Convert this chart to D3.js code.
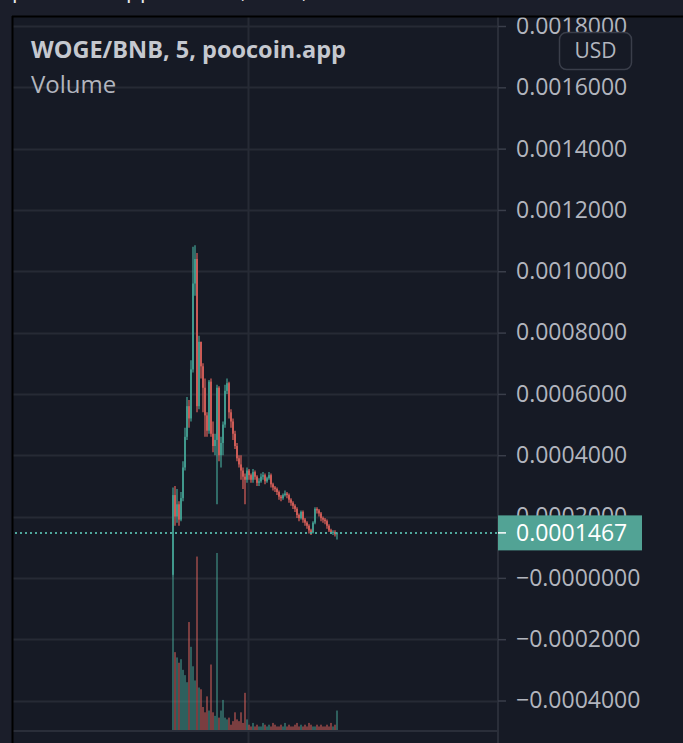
<!DOCTYPE html>
<html>
<head>
<meta charset="utf-8">
<script src="https://cdn.jsdelivr.net/npm/d3@7"></script>
<style>
  html, body { margin: 0; padding: 0; background: #1b1e2a; }
  #chart { width: 683px; height: 743px; }
  .price-label text { font-family: "Open Sans", sans-serif; font-size: 23px; fill: #b2b5be; }
  .chart-title { font-family: "Open Sans", sans-serif; font-size: 23.5px; font-weight: 700; fill: #c5c8cf; }
  .chart-sub { font-family: "Open Sans", sans-serif; font-size: 24px; fill: #b2b5be; }
</style>
</head>
<body>
<div id="chart"></div>
<script>
// price values in units of 1e-4 BNB
const priceTicks = [18, 16, 14, 12, 10, 8, 6, 4, 2, 0, -2, -4];
const priceTickLabels = ["0.0018000", "0.0016000", "0.0014000", "0.0012000", "0.0010000", "0.0008000",
    "0.0006000", "0.0004000", "0.0002000", "\u22120.0000000", "\u22120.0002000", "\u22120.0004000"];

const opens = [0.1, 2.7, 2.0, 2.4, 1.9, 2.6, 3.6, 4.6, 5.6, 5.2,
    6.8, 9.6, 10.4, 5.6, 7.7, 6.9, 6.2, 5.3, 4.8, 6.4,
    4.7, 4.3, 4.5, 6.2, 4.0, 4.4, 5.0, 6.1, 6.35, 5.4,
    5.1, 4.7, 4.3, 3.9, 3.7, 3.5, 3.3, 3.2, 3.5, 3.35,
    3.2, 3.45, 3.3, 3.1, 3.15, 3.3, 3.35, 3.15, 3.25, 3.35,
    3.05, 2.95, 2.9, 2.8, 2.65, 2.6, 2.7, 2.75, 2.7, 2.55,
    2.45, 2.35, 2.25, 2.05, 1.95, 2.15, 1.9, 1.8, 1.7, 1.55,
    1.48, 1.8, 2.25, 2.2, 2.1, 1.95, 1.9, 1.85, 1.7, 1.55,
    1.5, 1.5, 1.42];
const highs = [2.95, 3.0, 2.9, 2.5, 2.8, 3.8, 4.9, 5.9, 5.8, 7.1,
    10.8, 10.85, 10.6, 7.9, 7.7, 7.0, 6.5, 5.4, 6.45, 6.5,
    5.1, 4.7, 6.3, 6.25, 4.6, 5.1, 6.3, 6.5, 6.4, 5.5,
    5.2, 4.8, 4.4, 4.0, 4.0, 3.6, 3.4, 3.6, 3.55, 3.4,
    3.55, 3.5, 3.35, 3.25, 3.4, 3.45, 3.4, 3.3, 3.45, 3.4,
    3.1, 3.0, 2.95, 2.85, 2.7, 2.75, 2.85, 2.8, 2.75, 2.6,
    2.5, 2.4, 2.3, 2.1, 2.2, 2.2, 1.95, 1.85, 1.75, 1.6,
    1.85, 2.3, 2.3, 2.25, 2.15, 2.0, 1.95, 1.9, 1.75, 1.6,
    1.55, 1.55, 1.5];
const lows = [0.05, 1.7, 1.8, 1.7, 1.85, 2.5, 3.5, 4.5, 4.9, 5.1,
    6.7, 9.2, 5.4, 5.5, 6.5, 5.4, 4.6, 4.6, 4.7, 4.6,
    4.1, 4.0, 2.4, 3.8, 3.6, 4.0, 4.9, 6.0, 5.2, 4.9,
    4.5, 4.2, 3.8, 3.6, 3.2, 2.9, 2.4, 3.1, 3.2, 3.1,
    3.1, 3.2, 3.0, 3.0, 3.1, 3.2, 3.05, 3.1, 3.2, 2.95,
    2.85, 2.8, 2.7, 2.55, 2.5, 2.55, 2.65, 2.6, 2.45, 2.35,
    2.25, 2.15, 1.95, 1.85, 1.9, 1.8, 1.7, 1.6, 1.45, 1.4,
    1.45, 1.75, 2.1, 2.0, 1.85, 1.8, 1.75, 1.6, 1.5, 1.45,
    1.4, 1.35, 1.25];
const closes = [2.7, 2.0, 2.4, 1.9, 2.6, 3.6, 4.6, 5.6, 5.2, 6.8,
    9.6, 10.4, 5.6, 7.7, 6.9, 6.2, 5.3, 4.8, 6.4, 4.7,
    4.3, 4.5, 6.2, 4.0, 4.4, 5.0, 6.1, 6.35, 5.4, 5.1,
    4.7, 4.3, 3.9, 3.7, 3.5, 3.3, 3.2, 3.5, 3.35, 3.2,
    3.45, 3.3, 3.1, 3.15, 3.3, 3.35, 3.15, 3.25, 3.35, 3.05,
    2.95, 2.9, 2.8, 2.65, 2.6, 2.7, 2.75, 2.7, 2.55, 2.45,
    2.35, 2.25, 2.05, 1.95, 2.15, 1.9, 1.8, 1.7, 1.55, 1.48,
    1.8, 2.25, 2.2, 2.1, 1.95, 1.9, 1.85, 1.7, 1.55, 1.5,
    1.5, 1.42, 1.467];
// relative volume (tallest bar = 100)
const volumes = [87, 44, 41, 38, 40, 34, 31, 27, 61, 47,
    36, 28, 98, 24, 23, 13, 10, 19, 11, 37,
    10, 8, 100, 7, 11, 17, 7, 6, 7, 3,
    5, 10, 6, 5, 10, 4, 21, 6, 3, 2,
    4, 2, 3, 2, 2, 4, 3, 2, 3, 2,
    4, 3, 2, 2, 3, 2, 4, 2, 3, 2,
    2, 3, 4, 2, 3, 2, 3, 2, 4, 3,
    2, 2, 3, 2, 3, 2, 2, 3, 2, 4,
    2, 3, 11];
const lastPrice = 1.467;
const lastPriceLabel = "0.0001467";

// descender fragments of the caption cut off above the screenshot
const captionBits = [{x: 12, t: "p"}, {x: 126, t: "p"}, {x: 140, t: "p"}, {x: 241, t: ","}, {x: 302, t: ","}];

const upColor = "#45a396";
const downColor = "#dd615b";

function renderChart(selector) {
    const W = 683, H = 743;
    const paneLeft = 13, paneTop = 17, axisX = 498, paneBottom = 731;

    const svg = d3.select(selector).append("svg")
        .attr("width", W)
        .attr("height", H)
        .attr("viewBox", `0 0 ${W} ${H}`);

    svg.append("rect").attr("width", W).attr("height", H).attr("fill", "#1b1e2a");

    svg.append("g").selectAll("text")
        .data(captionBits)
        .enter().append("text")
        .attr("x", d => d.x).attr("y", -2)
        .attr("fill", "#e8e8ea")
        .style("font-family", "Open Sans, sans-serif")
        .style("font-size", "22px")
        .text(d => d.t);

    svg.append("rect")
        .attr("x", paneLeft).attr("y", paneTop)
        .attr("width", W - paneLeft).attr("height", H - paneTop)
        .attr("fill", "#161a25");

    const data = closes.map((c, i) => ({
        i: i, open: opens[i], high: highs[i], low: lows[i], close: c, volume: volumes[i]
    }));

    const x = d3.scaleLinear().domain([0, data.length - 1]).range([173, 337]);
    const y = d3.scaleLinear().domain([-4, 18]).range([700.5, 26]);
    const yVol = d3.scaleLinear().domain([0, 100]).range([730, 553]);

    // grid
    svg.append("g").selectAll("line")
        .data(priceTicks)
        .enter().append("line")
        .attr("x1", paneLeft).attr("x2", axisX)
        .attr("y1", d => Math.round(y(d)) + 0.5).attr("y2", d => Math.round(y(d)) + 0.5)
        .attr("stroke", "#262a35").attr("stroke-width", 2);

    svg.append("line")
        .attr("x1", 248.5).attr("x2", 248.5).attr("y1", paneTop).attr("y2", H)
        .attr("stroke", "#262a35").attr("stroke-width", 2);

    svg.append("line")
        .attr("x1", paneLeft).attr("x2", axisX)
        .attr("y1", paneBottom).attr("y2", paneBottom)
        .attr("stroke", "#2a2e39").attr("stroke-width", 2);

    svg.append("line")
        .attr("x1", axisX).attr("x2", axisX).attr("y1", paneTop).attr("y2", H)
        .attr("stroke", "#2a2e39").attr("stroke-width", 2);

    // price axis
    const axis = svg.append("g")
        .attr("class", "price-label")
        .attr("transform", `translate(${axisX}, 0)`)
        .call(d3.axisRight(y)
            .tickValues(priceTicks)
            .tickFormat((d, i) => priceTickLabels[i])
            .tickSize(8)
            .tickPadding(10));
    axis.select(".domain").remove();
    axis.selectAll(".tick line").attr("stroke", "#3a3e4a").attr("stroke-width", 1.5);

    // volume
    svg.append("g").selectAll("rect")
        .data(data)
        .enter().append("rect")
        .attr("x", d => x(d.i) - 1)
        .attr("width", 2)
        .attr("y", d => yVol(d.volume))
        .attr("height", d => yVol(0) - yVol(d.volume))
        .attr("fill", d => d.close >= d.open ? upColor : downColor)
        .attr("fill-opacity", 0.5);

    // candles
    const candles = svg.append("g").selectAll("g")
        .data(data)
        .enter().append("g")
        .attr("fill", d => d.close >= d.open ? upColor : downColor)
        .attr("stroke", d => d.close >= d.open ? upColor : downColor);

    candles.append("line")
        .attr("x1", d => x(d.i)).attr("x2", d => x(d.i))
        .attr("y1", d => y(d.high)).attr("y2", d => y(d.low))
        .attr("stroke-width", 1.2);

    candles.append("rect")
        .attr("stroke", "none")
        .attr("x", d => x(d.i) - 0.8)
        .attr("width", 1.6)
        .attr("y", d => y(Math.max(d.open, d.close)))
        .attr("height", d => Math.max(1, Math.abs(y(d.open) - y(d.close))));

    // last price line and label
    const yLast = y(lastPrice);
    svg.append("line")
        .attr("x1", paneLeft + 2).attr("x2", axisX)
        .attr("y1", yLast).attr("y2", yLast)
        .attr("stroke", "#4fa89c")
        .attr("stroke-width", 2)
        .attr("stroke-dasharray", "2,3");

    svg.append("rect")
        .attr("x", axisX).attr("y", yLast - 17.5)
        .attr("width", 144).attr("height", 35)
        .attr("fill", "#52a395");
    svg.append("line")
        .attr("x1", axisX).attr("x2", axisX + 8)
        .attr("y1", yLast).attr("y2", yLast)
        .attr("stroke", "#ffffff").attr("stroke-width", 1.5);
    svg.append("text")
        .attr("x", axisX + 18).attr("y", yLast)
        .attr("dy", "0.35em")
        .attr("fill", "#ffffff")
        .style("font-family", "Open Sans, sans-serif")
        .style("font-size", "23px")
        .text(lastPriceLabel);

    // pane border
    svg.append("line")
        .attr("x1", paneLeft - 1).attr("x2", W).attr("y1", paneTop - 0.5).attr("y2", paneTop - 0.5)
        .attr("stroke", "#000").attr("stroke-width", 2);
    svg.append("line")
        .attr("x1", paneLeft - 0.5).attr("x2", paneLeft - 0.5).attr("y1", paneTop - 1).attr("y2", H)
        .attr("stroke", "#000").attr("stroke-width", 2);

    // legend
    svg.append("text")
        .attr("class", "chart-title")
        .attr("x", 31).attr("y", 58)
        .text("WOGE/BNB, 5, poocoin.app");
    svg.append("text")
        .attr("class", "chart-sub")
        .attr("x", 31).attr("y", 93)
        .text("Volume");

    // currency button
    svg.append("rect")
        .attr("x", 559.5).attr("y", 32.5)
        .attr("width", 72).attr("height", 37)
        .attr("rx", 7)
        .attr("fill", "#161a25")
        .attr("stroke", "#3a3e4a")
        .attr("stroke-width", 1.5);
    svg.append("text")
        .attr("x", 595.5).attr("y", 51)
        .attr("dy", "0.35em")
        .attr("text-anchor", "middle")
        .attr("fill", "#b2b5be")
        .style("font-family", "Open Sans, sans-serif")
        .style("font-size", "21px")
        .text("USD");
}

renderChart("#chart");
</script>
</body>
</html>
